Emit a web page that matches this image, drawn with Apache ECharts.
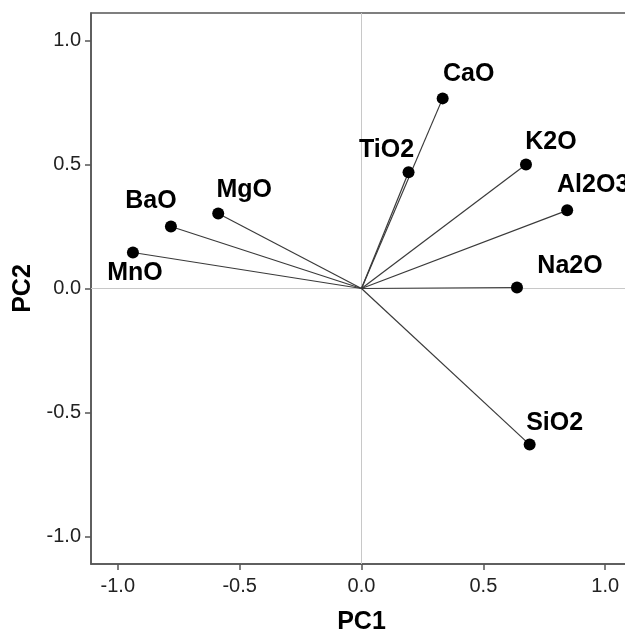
<!DOCTYPE html>
<html>
<head>
<meta charset="utf-8">
<script src="https://cdn.jsdelivr.net/npm/echarts@6/dist/echarts.min.js"></script>
<style>
html,body{margin:0;padding:0;background:#fff;}
#chart{width:625px;height:630px;}
</style>
</head>
<body>
<div id="chart"></div>
<script>
// Data
const variables = ['CaO', 'TiO2', 'K2O', 'Al2O3', 'Na2O', 'SiO2', 'MgO', 'BaO', 'MnO'];
const pc1 = [0.333, 0.193, 0.675, 0.844, 0.638, 0.690, -0.588, -0.782, -0.938];
const pc2 = [0.766, 0.468, 0.500, 0.315, 0.004, -0.629, 0.302, 0.250, 0.145];
const tickValues = [-1.0, -0.5, 0.0, 0.5, 1.0];
const tickLabels = ['-1.0', '-0.5', '0.0', '0.5', '1.0'];
const axisNames = ['PC1', 'PC2'];

// Label placement (style only)
const labelOffsets = {
  CaO: [26, -24], TiO2: [-22, -22], K2O: [25, -22], Al2O3: [26, -25],
  Na2O: [53, -21], SiO2: [25, -22], MgO: [26, -23], BaO: [-20, -25], MnO: [2, 21]
};

const FONT = 'Arial, "Liberation Sans", sans-serif';
const labelFmt = v => tickLabels[tickValues.findIndex(t => Math.abs(t - v) < 1e-9)] ?? '';

const vectorSeries = variables.map((name, i) => ({
  type: 'line',
  name: name,
  data: [[0, 0], [pc1[i], pc2[i]]],
  symbol: 'none',
  silent: true,
  lineStyle: { color: '#3a3a3a', width: 1.2 },
  z: 3
}));

const pointSeries = {
  type: 'scatter',
  data: variables.map((name, i) => ({
    name: name,
    value: [pc1[i], pc2[i]],
    label: { offset: labelOffsets[name] }
  })),
  symbol: 'circle',
  symbolSize: 12,
  itemStyle: { color: '#000', opacity: 1 },
  label: {
    show: true,
    position: 'inside',
    formatter: p => p.name,
    color: '#000',
    textBorderWidth: 0,
    fontFamily: FONT,
    fontWeight: 'bold',
    fontSize: 25
  },
  z: 5,
  markLine: {
    silent: true,
    symbol: 'none',
    label: { show: false },
    lineStyle: { color: '#c8c8c8', width: 1, type: 'solid', opacity: 1 },
    data: [{ xAxis: 0 }, { yAxis: 0 }],
    z: 1
  }
};

const axisCommon = {
  type: 'value',
  min: -1.11,
  max: 1.11,
  splitLine: { show: false },
  axisLine: { show: true, onZero: false, lineStyle: { color: '#555', width: 1.5 } },
  axisTick: { show: true, inside: false, length: 6, customValues: tickValues, lineStyle: { color: '#555', width: 1.5 } },
  axisLabel: { customValues: tickValues, formatter: labelFmt, color: '#222', fontFamily: FONT, fontSize: 20 },
  nameLocation: 'middle',
  nameTextStyle: { color: '#000', fontFamily: FONT, fontWeight: 'bold', fontSize: 25 }
};

const chart = echarts.init(document.getElementById('chart'), null, { renderer: 'canvas' });
chart.setOption({
  animation: false,
  backgroundColor: '#fff',
  grid: { left: 91, top: 13, right: -7, bottom: 66, show: true, borderColor: '#555', borderWidth: 1.5, backgroundColor: 'transparent', containLabel: false, outerBoundsMode: 'none' },
  xAxis: Object.assign({}, axisCommon, {
    name: axisNames[0], nameGap: 46,
    axisLabel: Object.assign({}, axisCommon.axisLabel, { margin: 12 })
  }),
  yAxis: Object.assign({}, axisCommon, {
    name: axisNames[1], nameGap: 53, nameRotate: 90,
    axisLabel: Object.assign({}, axisCommon.axisLabel, { margin: 10 })
  }),
  series: vectorSeries.concat([pointSeries])
});
</script>
</body>
</html>
